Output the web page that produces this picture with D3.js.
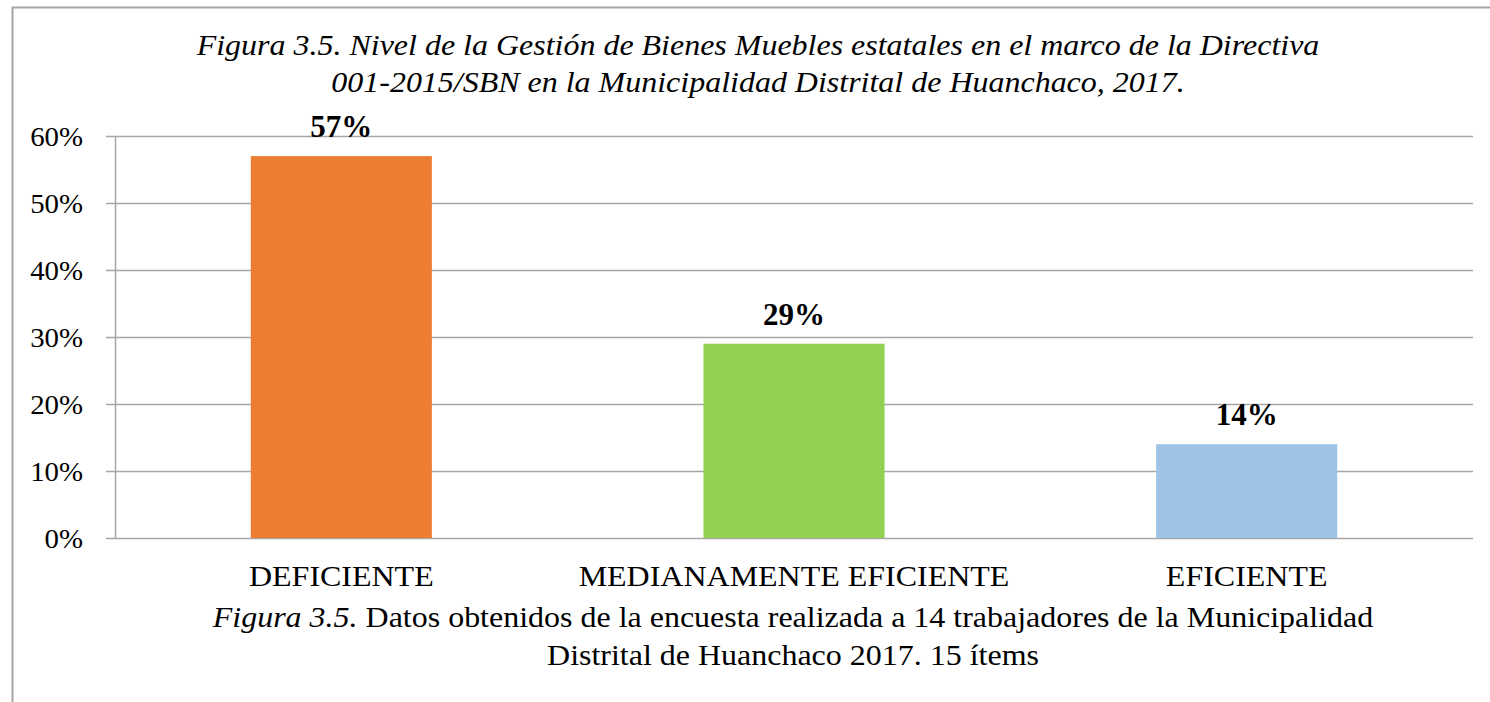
<!DOCTYPE html>
<html><head><meta charset="utf-8">
<script src="https://cdn.jsdelivr.net/npm/d3@7"></script>
<style>
html,body{margin:0;padding:0;background:#fff;overflow:hidden;}
svg{display:block;font-family:"Liberation Serif","Times New Roman",serif;}
</style></head>
<body>
<svg id="c" width="1490" height="702"></svg>
<script>
const categories = ["DEFICIENTE", "MEDIANAMENTE EFICIENTE", "EFICIENTE"];
const values = [0.57, 0.29, 0.14];
const colors = ["#ED7D31", "#92D050", "#9DC3E6"];
const yTicks = [0, 0.1, 0.2, 0.3, 0.4, 0.5, 0.6];
const titleLines = ["Figura 3.5. Nivel de la Gestión de Bienes Muebles estatales en el marco de la Directiva",
                    "001-2015/SBN en la Municipalidad Distrital de Huanchaco, 2017."];
const captionItalic = "Figura 3.5.";
const captionRest = " Datos obtenidos de la encuesta realizada a 14 trabajadores de la Municipalidad";
const captionLine2 = "Distrital de Huanchaco 2017. 15 ítems";

const svg = d3.select("#c");
const SX = 1.066;
const tr = (x, y, s) => `translate(${x},${y}) scale(${s},1)`;

// outer border
svg.append("rect").attr("x", 12.5).attr("y", 7.5).attr("width", 1500).attr("height", 720)
  .attr("fill", "#fff").attr("stroke", "#a6a6a6").attr("stroke-width", 2);

const pLeft = 115, pRight = 1473, pTop = 136, pBottom = 538;
const x = d3.scaleBand().domain(categories).range([pLeft, pRight]).paddingInner(0.6).paddingOuter(0.3);
const y = d3.scaleLinear().domain([0, 0.6]).range([pBottom, pTop]);

// gridlines
svg.append("g").selectAll("line").data(yTicks).join("line")
  .attr("x1", pLeft - 9).attr("x2", pRight)
  .attr("y1", d => Math.round(y(d)) + 0.5).attr("y2", d => Math.round(y(d)) + 0.5)
  .attr("stroke", "#a6a6a6").attr("stroke-width", 1.5);
// y axis line
svg.append("line").attr("x1", pLeft + 0.5).attr("x2", pLeft + 0.5).attr("y1", pTop).attr("y2", pBottom)
  .attr("stroke", "#a6a6a6").attr("stroke-width", 1.5);

// tick labels
svg.append("g").selectAll("text").data(yTicks).join("text")
  .attr("transform", d => tr(83, y(d) + 10, 1.03))
  .attr("text-anchor", "end").attr("font-size", 28).attr("fill", "#000")
  .text(d => d3.format(".0%")(d));

// bars
svg.append("g").selectAll("rect").data(values).join("rect")
  .attr("x", (d, i) => x(categories[i])).attr("width", x.bandwidth())
  .attr("y", d => y(d)).attr("height", d => pBottom - y(d))
  .attr("fill", (d, i) => colors[i]);

// value labels
svg.append("g").selectAll("text").data(values).join("text")
  .attr("x", (d, i) => x(categories[i]) + x.bandwidth() / 2)
  .attr("y", d => y(d) - 19)
  .attr("text-anchor", "middle").attr("font-size", 31).attr("font-weight", "bold")
  .text(d => d3.format(".0%")(d));

// category labels
svg.append("g").selectAll("text").data(categories).join("text")
  .attr("transform", d => tr(x(d) + x.bandwidth() / 2, 586, SX))
  .attr("text-anchor", "middle").attr("font-size", 30)
  .text(d => d);

// title
svg.append("g").selectAll("text").data(titleLines).join("text")
  .attr("transform", (d, i) => tr(758, 55 + i * 37, SX))
  .attr("text-anchor", "middle").attr("font-size", 30).attr("font-style", "italic")
  .text(d => d);

// caption
const cap = svg.append("text").attr("transform", tr(793, 627, SX)).attr("text-anchor", "middle").attr("font-size", 30);
cap.append("tspan").attr("font-style", "italic").text(captionItalic);
cap.append("tspan").text(captionRest);
svg.append("text").attr("transform", tr(793, 665, SX)).attr("text-anchor", "middle").attr("font-size", 30).text(captionLine2);
</script>
</body></html>
